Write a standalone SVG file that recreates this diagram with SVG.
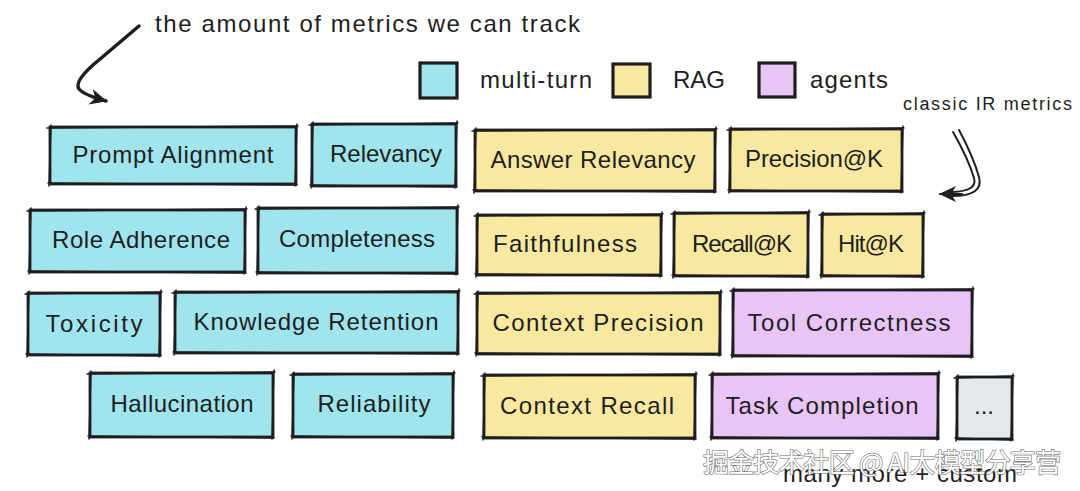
<svg xmlns="http://www.w3.org/2000/svg" width="1080" height="491" viewBox="0 0 1080 491">
<style>
  text { font-family: "Liberation Sans", "Noto Sans", sans-serif; fill: #1e1e1e; }
  .lbl { font-size: 24px; text-anchor: middle; }
  .note { font-size: 24px; }
  .small { font-size: 18px; }
  .box { stroke: #1e1e1e; stroke-width: 2.8; }
  .sk { fill: none; stroke: #1e1e1e; stroke-width: 1.5; stroke-linecap: round; }
  .cy { fill: #a0e4ee; }
  .ye { fill: #f9e8a0; }
  .pu { fill: #e8c4f7; }
  .gr { fill: #e6e9ec; }
  .leg { stroke: #1e1e1e; stroke-width: 3.2; }
  .arr { fill: none; stroke: #1e1e1e; stroke-width: 3.5; stroke-linecap: round; stroke-linejoin: round; }
  .arr2 { fill: none; stroke: #1e1e1e; stroke-width: 2; stroke-linecap: round; }
  .wm { font-family: "Noto Sans CJK SC", "Noto Sans", sans-serif; font-size: 26px; fill: #ffffff; stroke: #6a6a6a; stroke-width: 1.2; paint-order: stroke; }
</style>
<defs>
  <marker id="ah" markerUnits="userSpaceOnUse" markerWidth="22" markerHeight="22" refX="16" refY="8" orient="auto">
    <path d="M0,0 L17,8 L0,16 L5,8 Z" fill="#1e1e1e"/>
  </marker>
</defs>
<rect width="1080" height="491" fill="#ffffff"/>

<!-- annotations -->
<g id="annotations">
  <text class="note" x="155" y="32" textLength="425">the amount of metrics we can track</text>
  <text class="small" x="903" y="110" textLength="169">classic IR metrics</text>
  <text class="note" x="783" y="482" textLength="234">many more + custom</text>
</g>

<!-- legend -->
<g id="legend">
  <rect class="leg cy" x="420" y="63" width="37" height="35"/>
  <text class="note" x="480" y="88" textLength="112">multi-turn</text>
  <rect class="leg ye" x="613" y="64" width="37" height="33"/>
  <text class="note" x="673" y="88" textLength="52">RAG</text>
  <rect class="leg pu" x="759" y="63" width="36" height="34"/>
  <text class="note" x="810" y="88" textLength="78">agents</text>
</g>

<!-- connectors -->
<g id="connectors">
  <path class="arr" d="M139,26 L93,65 Q74,82 79,89 Q84,95 106,101" marker-end="url(#ah)"/>
  <path class="arr2" d="M953,132 Q968,158 974,178 Q978,191 952,192"/>
  <path class="arr2" d="M959,130 Q973,156 979,177 Q984,196 952,196"/>
  <path class="arr2" d="M962,194 L940,194" marker-end="url(#ah)"/>
</g>

<!-- nodes -->
<g id="n-prompt-alignment">
  <rect class="box cy" x="50" y="127" width="246" height="57"/>
  <path class="sk" d="M47,128 L298,126 M297,124 L295,186 M297,185 L48,183 M49,186 L51,125"/>
  <text class="lbl" x="173" y="163" textLength="201">Prompt Alignment</text>
</g>
<g id="n-relevancy">
  <rect class="box cy" x="312" y="124" width="144" height="62"/>
  <path class="sk" d="M309,125 L458,123 M457,121 L455,188 M457,187 L310,185 M311,188 L313,122"/>
  <text class="lbl" x="386" y="162" textLength="112">Relevancy</text>
</g>
<g id="n-answer-relevancy">
  <rect class="box ye" x="475" y="130" width="240" height="61"/>
  <path class="sk" d="M472,131 L717,129 M716,127 L714,193 M716,192 L473,190 M474,193 L476,128"/>
  <text class="lbl" x="593" y="168" textLength="205">Answer Relevancy</text>
</g>
<g id="n-precision-k">
  <rect class="box ye" x="730" y="129" width="172" height="62"/>
  <path class="sk" d="M727,130 L904,128 M903,126 L901,193 M903,192 L728,190 M729,193 L731,127"/>
  <text class="lbl" x="814" y="167" textLength="138">Precision@K</text>
</g>

<g id="n-role-adherence">
  <rect class="box cy" x="30" y="210" width="215" height="62"/>
  <path class="sk" d="M27,211 L247,209 M246,207 L244,274 M246,273 L28,271 M29,274 L31,208"/>
  <text class="lbl" x="141" y="248" textLength="178">Role Adherence</text>
</g>
<g id="n-completeness">
  <rect class="box cy" x="258" y="208" width="199" height="65"/>
  <path class="sk" d="M255,209 L459,207 M458,205 L456,275 M458,274 L256,272 M257,275 L259,206"/>
  <text class="lbl" x="357" y="247" textLength="156">Completeness</text>
</g>
<g id="n-faithfulness">
  <rect class="box ye" x="477" y="215" width="184" height="60"/>
  <path class="sk" d="M474,216 L663,214 M662,212 L660,277 M662,276 L475,274 M476,277 L478,213"/>
  <text class="lbl" x="565" y="252" textLength="144">Faithfulness</text>
</g>
<g id="n-recall-k">
  <rect class="box ye" x="674" y="213" width="134" height="63"/>
  <path class="sk" d="M671,214 L810,212 M809,210 L807,278 M809,277 L672,275 M673,278 L675,211"/>
  <text class="lbl" x="742" y="252" textLength="100">Recall@K</text>
</g>
<g id="n-hit-k">
  <rect class="box ye" x="822" y="214" width="101" height="62"/>
  <path class="sk" d="M819,215 L925,213 M924,211 L922,278 M924,277 L820,275 M821,278 L823,212"/>
  <text class="lbl" x="871" y="252" textLength="66">Hit@K</text>
</g>

<g id="n-toxicity">
  <rect class="box cy" x="28" y="293" width="132" height="62"/>
  <path class="sk" d="M25,294 L162,292 M161,290 L159,357 M161,356 L26,354 M27,357 L29,291"/>
  <text class="lbl" x="94" y="332" textLength="97">Toxicity</text>
</g>
<g id="n-knowledge-retention">
  <rect class="box cy" x="175" y="292" width="283" height="61"/>
  <path class="sk" d="M172,293 L460,291 M459,289 L457,355 M459,354 L173,352 M174,355 L176,290"/>
  <text class="lbl" x="316" y="330" textLength="245">Knowledge Retention</text>
</g>
<g id="n-context-precision">
  <rect class="box ye" x="477" y="293" width="243" height="61"/>
  <path class="sk" d="M474,294 L722,292 M721,290 L719,356 M721,355 L475,353 M476,356 L478,291"/>
  <text class="lbl" x="598" y="331" textLength="211">Context Precision</text>
</g>
<g id="n-tool-correctness">
  <rect class="box pu" x="733" y="290" width="239" height="66"/>
  <path class="sk" d="M730,291 L974,289 M973,287 L971,358 M973,357 L731,355 M732,358 L734,288"/>
  <text class="lbl" x="849" y="331" textLength="203">Tool Correctness</text>
</g>

<g id="n-hallucination">
  <rect class="box cy" x="90" y="373" width="183" height="64"/>
  <path class="sk" d="M87,374 L275,372 M274,370 L272,439 M274,438 L88,436 M89,439 L91,371"/>
  <text class="lbl" x="182" y="412" textLength="143">Hallucination</text>
</g>
<g id="n-reliability">
  <rect class="box cy" x="293" y="374" width="160" height="63"/>
  <path class="sk" d="M290,375 L455,373 M454,371 L452,439 M454,438 L291,436 M292,439 L294,372"/>
  <text class="lbl" x="374" y="412" textLength="113">Reliability</text>
</g>
<g id="n-context-recall">
  <rect class="box ye" x="484" y="375" width="211" height="63"/>
  <path class="sk" d="M481,376 L697,374 M696,372 L694,440 M696,439 L482,437 M483,440 L485,373"/>
  <text class="lbl" x="587" y="414" textLength="174">Context Recall</text>
</g>
<g id="n-task-completion">
  <rect class="box pu" x="712" y="374" width="226" height="64"/>
  <path class="sk" d="M709,375 L940,373 M939,371 L937,440 M939,439 L710,437 M711,440 L713,372"/>
  <text class="lbl" x="822" y="414" textLength="193">Task Completion</text>
</g>
<g id="n-more">
  <rect class="box gr" x="957" y="377" width="55" height="62"/>
  <path class="sk" d="M954,378 L1014,376 M1013,374 L1011,441 M1013,440 L955,438 M956,441 L958,375"/>
  <text class="lbl" x="984" y="414">...</text>
</g>

<!-- watermark -->
<text class="wm" x="703" y="472" textLength="358">掘金技术社区 @ AI大模型分享营</text>
</svg>
